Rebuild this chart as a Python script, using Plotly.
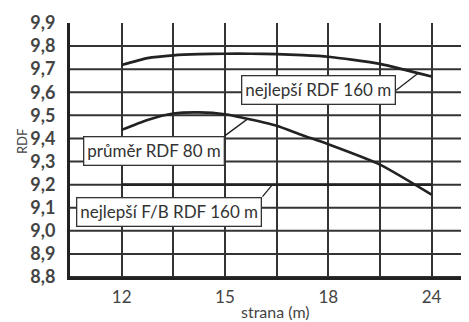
import numpy as np
import plotly.graph_objects as go

# category labels on the x axis (strana in m), evenly spaced
kategorie = ["12", "15", "18", "24"]
kat_pozice = [0, 1, 2, 3]

# sample positions along the category axis (category index units)
pozice = [0, 0.25, 0.5, 0.75, 1, 1.25, 1.5, 1.75, 2, 2.5, 3]

# series values (RDF)
nejlepsi_rdf_160 = [9.718, 9.748, 9.760, 9.765, 9.767, 9.767, 9.765, 9.761, 9.754, 9.723, 9.668]
prumer_rdf_80 = [9.437, 9.480, 9.508, 9.513, 9.505, 9.482, 9.455, 9.414, 9.375, 9.287, 9.157]
fb_pozice = [0, 3]
nejlepsi_fb_rdf_160 = [9.2, 9.2]

y_ticks = [8.8, 8.9, 9.0, 9.1, 9.2, 9.3, 9.4, 9.5, 9.6, 9.7, 9.8, 9.9]

FONT = "Lato"
LINE = "#222222"
GRID = "#333333"

fig = go.Figure()
for xs, ys in [(pozice, nejlepsi_rdf_160), (pozice, prumer_rdf_80), (fb_pozice, nejlepsi_fb_rdf_160)]:
    fig.add_trace(go.Scatter(x=xs, y=ys, mode="lines",
                             line=dict(color=LINE, width=2.6, shape="spline", smoothing=0.6),
                             showlegend=False, hoverinfo="skip"))

grid_vals = [v / 2 for v in range(-1, 7)]
grid_text = []
for v in grid_vals:
    if v in kat_pozice:
        grid_text.append(kategorie[kat_pozice.index(v)])
    else:
        grid_text.append("")

fig.update_layout(
    width=469, height=322,
    margin=dict(l=62, r=0, t=15, b=53),
    paper_bgcolor="white", plot_bgcolor="white",
    separators=", ",
    font=dict(family=FONT, color="#333333"),
    showlegend=False,
)
fig.update_xaxes(
    range=[-0.5, 3.44], tickmode="array", tickvals=grid_vals, ticktext=grid_text,
    showgrid=True, gridcolor=GRID, gridwidth=2, zeroline=False,
    showline=True, linecolor="#222222", linewidth=3,
    ticks="outside", ticklen=3, tickcolor="rgba(0,0,0,0)",
    tickfont=dict(family=FONT, size=17, color="#444444"),
)
fig.update_yaxes(
    range=[8.8, 9.9], tickmode="array", tickvals=y_ticks,
    ticktext=[f"{v:.1f}".replace(".", ",") for v in y_ticks],
    showgrid=False, zeroline=False,
    showline=True, linecolor="#222222", linewidth=3,
    ticks="outside", ticklen=8, tickcolor="rgba(0,0,0,0)",
    tickfont=dict(family=FONT, size=18, color="#444444", weight="bold"),
)
for v in y_ticks[:-1]:
    fig.add_shape(type="line", xref="paper", yref="y", x0=0, x1=1, y0=v, y1=v,
                  line=dict(color=GRID, width=2), layer="below")

def curve_y(xs, ys, x):
    return float(np.interp(x, xs, ys))

labels = [
    ("nejlepší RDF 160 m", 2.87, curve_y(pozice, nejlepsi_rdf_160, 2.87), -22, 17, "middle"),
    ("průměr RDF 80 m", 1.22, curve_y(pozice, prumer_rdf_80, 1.22), -23, 17, "top"),
    ("nejlepší F/B RDF 160 m", 1.46, curve_y(fb_pozice, nejlepsi_fb_rdf_160, 1.46), -10, 12, "top"),
]
for text, x, y, ax, ay, yanc in labels:
    fig.add_annotation(
        x=x, y=y, xref="x", yref="y", text=text,
        showarrow=True, arrowhead=0, arrowwidth=1.3, arrowcolor=LINE,
        ax=ax, ay=ay, xanchor="right", yanchor=yanc,
        bgcolor="white", bordercolor="#333333", borderwidth=1.3, borderpad=3,
        font=dict(family=FONT, size=17, color="#333333"),
    )

fig.add_annotation(text="RDF", xref="paper", yref="paper", x=-0.118, y=0.535,
                   xanchor="center", yanchor="middle",
                   showarrow=False, textangle=-90,
                   font=dict(family=FONT, size=13, color="#444444"))
fig.add_annotation(text="strana (m)", xref="paper", yref="paper", x=0.505, y=-0.135,
                   showarrow=False, xanchor="center", yanchor="middle",
                   font=dict(family=FONT, size=16, color="#444444"))

fig.write_html("out.html")
